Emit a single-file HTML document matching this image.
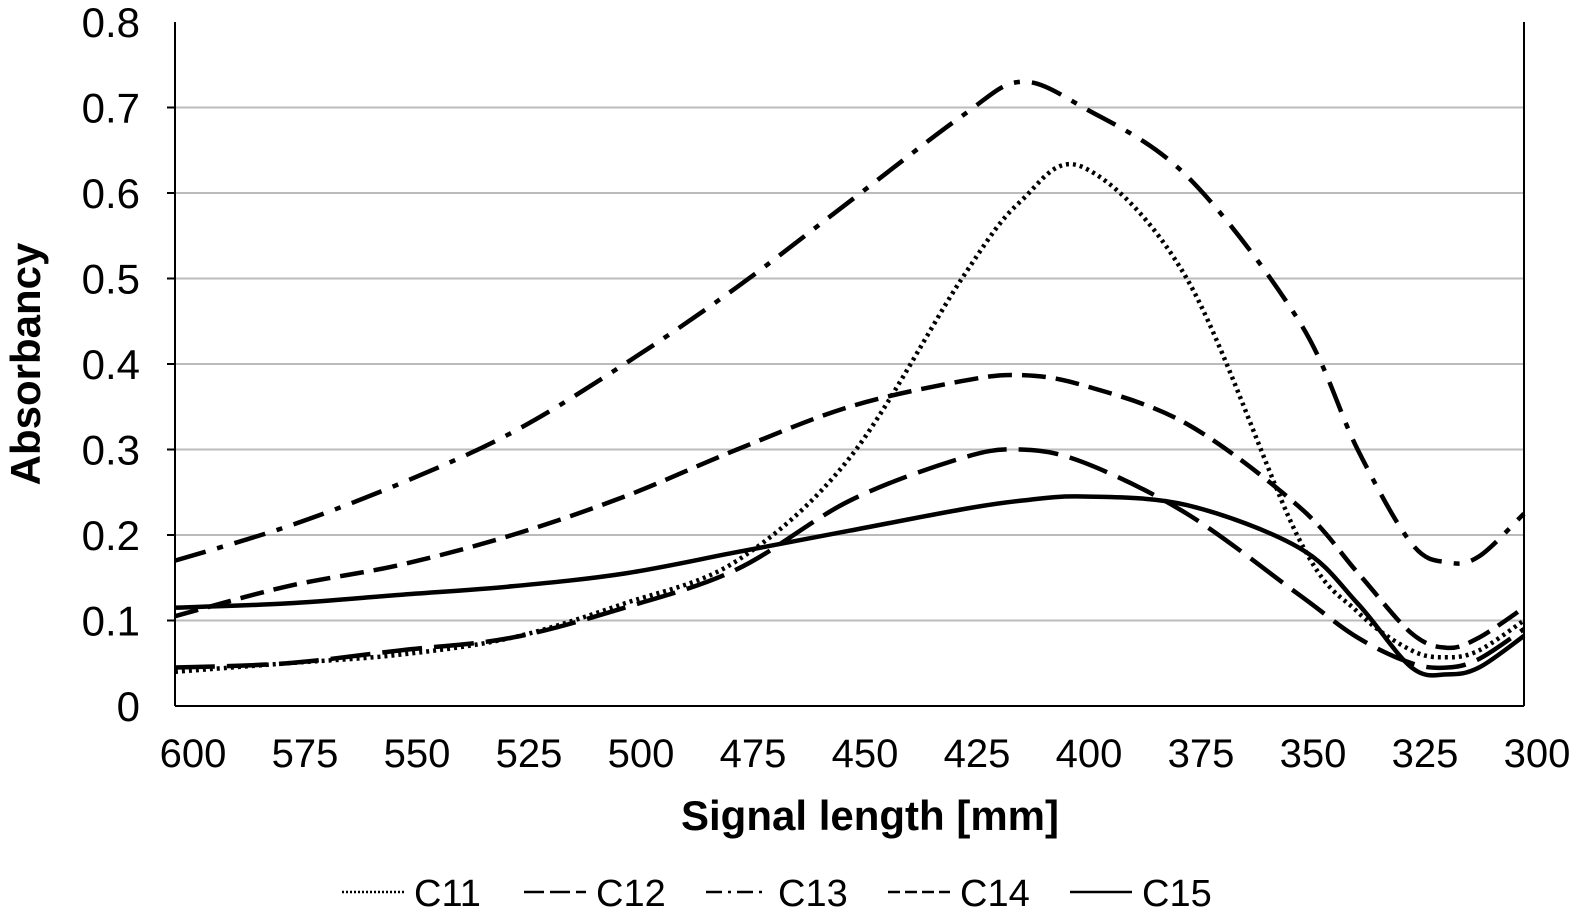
<!DOCTYPE html>
<html><head><meta charset="utf-8"><style>
html,body{margin:0;padding:0;background:#fff;width:1575px;height:915px;overflow:hidden}
svg{display:block;font-family:"Liberation Sans",sans-serif}
</style></head><body>
<svg id="chart" width="1575" height="915">
<g id="grid"></g>
<g id="axes"></g>
<g id="series"></g>
<text x="40" y="364" transform="rotate(-90 40 364)" text-anchor="middle" font-size="42" font-weight="bold">Absorbancy</text>
<text x="870" y="830" text-anchor="middle" font-size="42" font-weight="bold">Signal length [mm]</text>
<g id="legend"></g>
</svg>
<script>
const xs = [600,575,550,525,500,475,450,425,412,398,375,350,337,325,317,310,300];
const c11 = [0.04,0.05,0.06,0.08,0.12,0.17,0.29,0.5,0.59,0.63,0.50,0.195,0.11,0.065,0.057,0.065,0.10];
const c12 = [0.045,0.05,0.065,0.08,0.115,0.16,0.24,0.29,0.30,0.285,0.225,0.13,0.08,0.05,0.045,0.055,0.09];
const c13 = [0.17,0.21,0.26,0.32,0.40,0.49,0.59,0.69,0.73,0.70,0.62,0.45,0.30,0.19,0.168,0.175,0.225];
const c14 = [0.105,0.14,0.165,0.20,0.245,0.30,0.35,0.38,0.387,0.375,0.33,0.233,0.156,0.085,0.068,0.08,0.115];
const c15 = [0.115,0.12,0.13,0.14,0.155,0.18,0.205,0.23,0.24,0.245,0.235,0.185,0.12,0.045,0.037,0.045,0.082];
const yTicks = ["0","0.1","0.2","0.3","0.4","0.5","0.6","0.7","0.8"];
const xTicks = ["600","575","550","525","500","475","450","425","400","375","350","325","300"];
const names = ["C11","C12","C13","C14","C15"];
const NS="http://www.w3.org/2000/svg";
const X0=175,X1=1524,Y0=706,Y1=22;
const xS=v=>X0+(600-v)/300*(X1-X0);
const yS=v=>Y0-v/0.8*(Y0-Y1);
function mk(t,a,p){const e=document.createElementNS(NS,t);for(const k in a)e.setAttribute(k,a[k]);p.appendChild(e);return e;}
const grid=document.getElementById('grid'),axes=document.getElementById('axes'),ser=document.getElementById('series'),leg=document.getElementById('legend');
yTicks.forEach((t,i)=>{const v=parseFloat(t);const y=yS(v);
 if(i>0&&i<8){const l=mk('line',{x1:X0,x2:X1,y1:y,y2:y,stroke:'#bbb','stroke-width':2},grid);
 
 }
 const tx=mk('text',{x:140,y:y+15,'text-anchor':'end','font-size':42},axes);tx.textContent=t;
 
 });
xTicks.forEach((t,i)=>{const tx=mk('text',{x:193+112*i,y:767,'text-anchor':'middle','font-size':40},axes);tx.textContent=t;
 
 });
mk('line',{x1:X0,x2:X0,y1:Y1,y2:Y0,stroke:'#000','stroke-width':2},axes);
mk('line',{x1:X1,x2:X1,y1:Y1,y2:Y0,stroke:'#000','stroke-width':2},axes);
mk('line',{x1:X0,x2:X1,y1:Y0,y2:Y0,stroke:'#000','stroke-width':2},axes);
for(let i=1;i<8;i++)mk('line',{x1:X0-8,x2:X0,y1:yS(i*0.1),y2:yS(i*0.1),stroke:'#000','stroke-width':2},axes);
function path(vals){const p=xs.map((x,i)=>[xS(x),yS(vals[i])]);let d=`M${p[0][0]},${p[0][1]}`;
 for(let i=0;i<p.length-1;i++){const a=p[Math.max(0,i-1)],b=p[i],c=p[i+1],e=p[Math.min(p.length-1,i+2)];
 d+=` C${b[0]+(c[0]-a[0])/6},${b[1]+(c[1]-a[1])/6} ${c[0]-(e[0]-b[0])/6},${c[1]-(e[1]-b[1])/6} ${c[0]},${c[1]}`;}return d;}
const dashes=["3,4","40,12","32,12,6,12","24,10",""];
[c11,c12,c13,c14,c15].forEach((s,i)=>{const p=mk('path',{d:path(s),fill:'none',stroke:'#000','stroke-width':4.5,'stroke-dasharray':dashes[i]},ser);
 
 
 const lx=342+i*182;
 const ll=mk('line',{x1:lx,x2:lx+62,y1:892,y2:892,stroke:'#000','stroke-width':2.5,'stroke-dasharray':dashes[i]?dashes[i].split(',').map(n=>Math.max(2,n/2)).join(','):''},leg);
 
 
 const lt=mk('text',{x:lx+72,y:906,'font-size':38},leg);lt.textContent=names[i];
 
 });
</script>
</body></html>
